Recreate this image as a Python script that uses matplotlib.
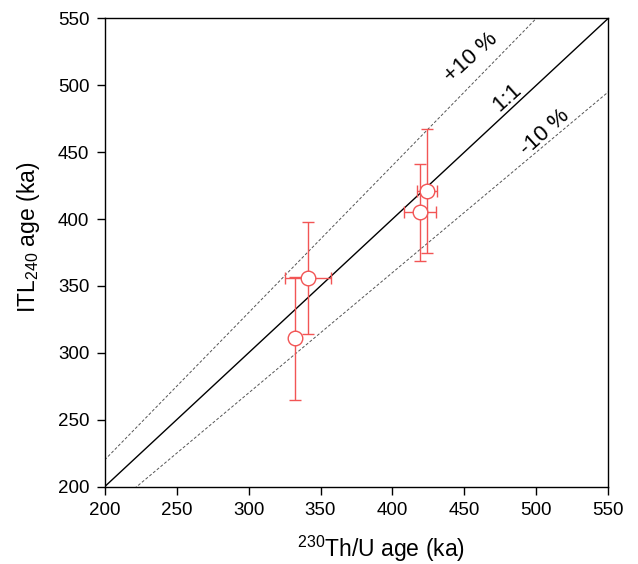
import numpy as np
import matplotlib.pyplot as plt

plt.rcParams['font.family'] = ['Liberation Sans', 'DejaVu Sans']
plt.rcParams['mathtext.fontset'] = 'custom'
plt.rcParams['mathtext.rm'] = 'Liberation Sans'
plt.rcParams['mathtext.it'] = 'Liberation Sans:italic'
plt.rcParams['mathtext.default'] = 'regular'

# data (ka)
th_age = [341, 332, 424, 419]
th_err = [16, 2.5, 7, 11]
itl_age = [356, 311, 421, 405]
itl_err = [42, 46, 46, 36]

ticks = [200, 250, 300, 350, 400, 450, 500, 550]
ref_x = np.array([200, 550])

fig = plt.figure(figsize=(6.38, 5.64), dpi=100)
ax = fig.add_axes([0.164, 0.137, 0.7895, 0.8306])

# 1:1 and +-10 % lines
ax.plot(ref_x, ref_x, color='black', lw=1.0)
ax.plot(ref_x, ref_x * 1.1, color='#555555', lw=0.7, ls=(0, (3, 2)))
ax.plot(ref_x, ref_x * 0.9, color='#555555', lw=0.7, ls=(0, (3, 2)))

red = '#f25555'
ax.errorbar(th_age, itl_age, xerr=th_err, yerr=itl_err, fmt='o', ms=10.5,
            mfc='white', mec=red, mew=1.0, ecolor=red, elinewidth=1.0,
            capsize=4, capthick=1.0, zorder=3)

ax.set_xlim(200, 550)
ax.set_ylim(200, 550)
ax.set_xticks(ticks)
ax.set_yticks(ticks)
ax.tick_params(direction='out', length=6, width=1, labelsize=13.5, pad=5)
for s in ax.spines.values():
    s.set_linewidth(1.0)

ax.set_xlabel('$^{230}$Th/U age (ka)', fontsize=16.5)
ax.set_ylabel('ITL$_{240}$ age (ka)', fontsize=16.5)
ax.xaxis.set_label_coords(0.549, -0.1)
ax.yaxis.set_label_coords(-0.125, 0.533)

# labels along the lines
ax.text(454.6, 520.8, '+10 %', fontsize=16, rotation=42,
        ha='center', va='center', rotation_mode='anchor')
ax.text(479.4, 490.9, '1:1', fontsize=16, rotation=42,
        ha='center', va='center', rotation_mode='anchor')
ax.text(506, 464.7, '-10 %', fontsize=16, rotation=42,
        ha='center', va='center', rotation_mode='anchor')

fig.savefig('out.png', dpi=100)
